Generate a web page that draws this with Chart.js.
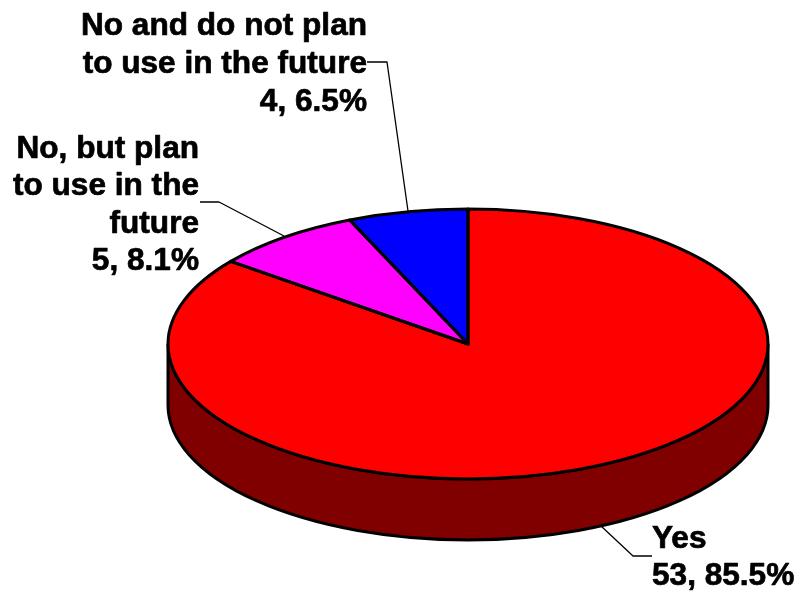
<!DOCTYPE html>
<html>
<head>
<meta charset="utf-8">
<title>Pie chart</title>
<script src="https://cdn.jsdelivr.net/npm/chart.js@4"></script>
<style>
  html, body { margin: 0; padding: 0; background: #fff; }
  #wrap { width: 797px; height: 591px; }
</style>
</head>
<body>
<div id="wrap"><canvas id="chart"></canvas></div>
<script>
// clockwise from 12 o'clock
const categories = ['Yes', 'No, but plan to use in the future', 'No and do not plan to use in the future'];
const counts = [53, 5, 4];
const percents = ['85.5%', '8.1%', '6.5%'];
const sliceColors = ['#ff0000', '#ff00ff', '#0000ff'];
const sideColor = '#800000';

// the wrapped lines of each label, and where they sit
const labelLines = [['Yes'], ['No, but plan', 'to use in the', 'future'], ['No and do not plan', 'to use in the future']];
const labelAnchors = [
  { x: 652, y: 548, step: 37, align: 'left' },
  { x: 199, y: 158, step: 37.3, align: 'right' },
  { x: 367, y: 34.5, step: 38.2, align: 'right' }
];
const leaders = [
  [[601, 526], [633, 556], [652, 556]],
  [[200, 202], [219, 202], [284, 236]],
  [[367, 62], [387, 62], [408, 211]]
];

const tilt = 0.45;   // ellipse height / width
const depth = 61;    // thickness of the pie

const tiltedPie = {
  id: 'tiltedPie',
  beforeDatasetsDraw(chart) {
    const ctx = chart.ctx;
    const arc = chart.getDatasetMeta(0).data[0];
    const { x, y, outerRadius: r } = arc;
    const ry = r * tilt;
    // side wall first, pie top goes over it
    ctx.save();
    ctx.beginPath();
    ctx.ellipse(x, y, r, ry, 0, 0, Math.PI);
    ctx.lineTo(x - r, y + depth);
    ctx.ellipse(x, y + depth, r, ry, 0, Math.PI, 0, true);
    ctx.closePath();
    ctx.fillStyle = sideColor;
    ctx.fill();
    ctx.strokeStyle = '#000';
    ctx.lineWidth = 3;
    ctx.stroke();
    ctx.restore();
    // squash the arcs into an ellipse
    ctx.save();
    ctx.translate(0, y);
    ctx.scale(1, tilt);
    ctx.translate(0, -y);
  },
  afterDatasetsDraw(chart) {
    const ctx = chart.ctx;
    ctx.restore();
    // outlines are stroked outside the squash so the line width stays even
    chart.getDatasetMeta(0).data.forEach(arc => {
      ctx.save();
      ctx.translate(0, arc.y);
      ctx.scale(1, tilt);
      ctx.translate(0, -arc.y);
      ctx.beginPath();
      ctx.moveTo(arc.x, arc.y);
      ctx.arc(arc.x, arc.y, arc.outerRadius, arc.startAngle, arc.endAngle);
      ctx.closePath();
      ctx.restore();
      ctx.strokeStyle = '#000';
      ctx.lineWidth = 3;
      ctx.lineJoin = 'round';
      ctx.stroke();
    });
    // leader lines
    ctx.save();
    ctx.strokeStyle = '#000';
    ctx.lineWidth = 1.3;
    leaders.forEach(pts => {
      ctx.beginPath();
      pts.forEach((p, i) => i ? ctx.lineTo(p[0], p[1]) : ctx.moveTo(p[0], p[1]));
      ctx.stroke();
    });
    // labels, with a thin stroke to get the heavier weight of the original
    ctx.fillStyle = '#000';
    ctx.lineWidth = 0.7;
    ctx.lineJoin = 'round';
    ctx.font = 'bold 31.6px "Liberation Sans", Arial, sans-serif';
    ctx.textBaseline = 'alphabetic';
    categories.forEach((name, i) => {
      const a = labelAnchors[i];
      const lines = labelLines[i].concat(counts[i] + ', ' + percents[i]);
      ctx.textAlign = a.align;
      lines.forEach((t, j) => {
        ctx.fillText(t, a.x, a.y + j * a.step);
        ctx.strokeText(t, a.x, a.y + j * a.step);
      });
    });
    ctx.restore();
  }
};

new Chart(document.getElementById('chart'), {
  type: 'pie',
  data: {
    labels: categories,
    datasets: [{
      data: counts,
      backgroundColor: sliceColors,
      borderWidth: 0,
      clip: false
    }]
  },
  options: {
    responsive: true,
    maintainAspectRatio: false,
    animation: false,
    radius: 300,
    layout: { padding: { left: 139, top: 97 } },
    plugins: { legend: { display: false }, tooltip: { enabled: false } }
  },
  plugins: [tiltedPie]
});
</script>
</body>
</html>
